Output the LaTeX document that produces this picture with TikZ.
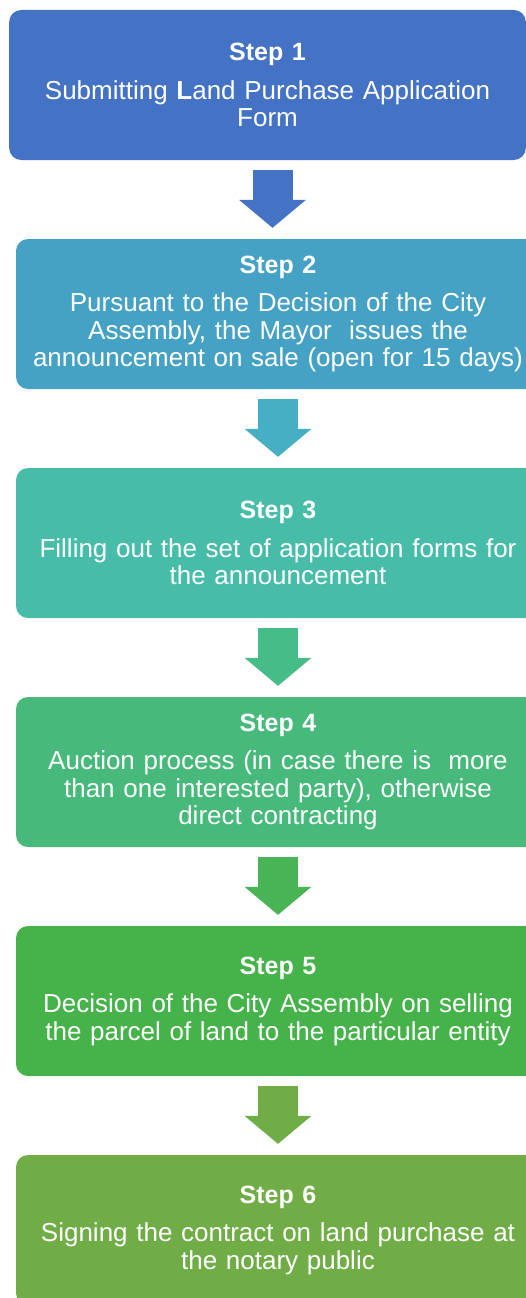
\documentclass[tikz,border=0pt]{standalone}
\usepackage{fontspec}
\setmainfont{Liberation Sans}
\usetikzlibrary{positioning,arrows.meta}

\definecolor{stepA}{HTML}{4472C4}
\definecolor{stepB}{HTML}{45A2C4}
\definecolor{stepC}{HTML}{47BDA9}
\definecolor{stepD}{HTML}{46B97B}
\definecolor{stepE}{HTML}{45B24A}
\definecolor{stepF}{HTML}{70AD47}
\definecolor{arrB}{HTML}{47AFC3}
\definecolor{arrC}{HTML}{46BC89}
\definecolor{arrD}{HTML}{48B456}

\newcommand{\stephead}[1]{{\fontsize{25pt}{27pt}\selectfont\bfseries Step #1}\\[11pt]}

\tikzset{
  stepbox/.style={rectangle, rounded corners=12pt, minimum width=524pt, minimum height=150pt,
    text width=510pt, align=center, text=white, font=\fontsize{26pt}{27.5pt}\selectfont},
  flow/.style={line width=40pt, shorten <=10pt, shorten >=11pt,
    -{Triangle[width=67pt, length=28pt, line width=0pt]}}
}

\begin{document}
\begin{tikzpicture}[node distance=229pt]
    \useasboundingbox (0,0) rectangle (526pt,-1298pt);
    \clip (0,0) rectangle (526pt,-1298pt);

    \node (s1) [stepbox, fill=stepA, minimum width=515pt] at (267.5pt,-85pt)
        {\stephead{1}Submitting \textbf{L}and Purchase Application\\Form};
    \node (s2) [stepbox, fill=stepB, below of=s1, xshift=10.5pt]
        {\stephead{2}Pursuant to the Decision of the City\\Assembly, the Mayor\ \ issues the\\announcement on sale (open for 15 days)};
    \node (s3) [stepbox, fill=stepC, below of=s2]
        {\stephead{3}Filling out the set of application forms for\\the announcement};
    \node (s4) [stepbox, fill=stepD, below of=s3]
        {\stephead{4}Auction process (in case there is\ \ more\\than one interested party), otherwise\\direct contracting};
    \node (s5) [stepbox, fill=stepE, below of=s4]
        {\stephead{5}Decision of the City Assembly on selling\\the parcel of land to the particular entity};
    \node (s6) [stepbox, fill=stepF, below of=s5]
        {\stephead{6}Signing the contract on land purchase at\\the notary public};

    % block arrows between the steps
    \coordinate (a1) at ([xshift=5pt]s1.south);
    \draw[flow, stepA] (a1) -- (a1 |- s2.north);
    \draw[flow, arrB] (s2.south) -- (s3.north);
    \draw[flow, arrC] (s3.south) -- (s4.north);
    \draw[flow, arrD] (s4.south) -- (s5.north);
    \draw[flow, stepF] (s5.south) -- (s6.north);
\end{tikzpicture}
\end{document}
